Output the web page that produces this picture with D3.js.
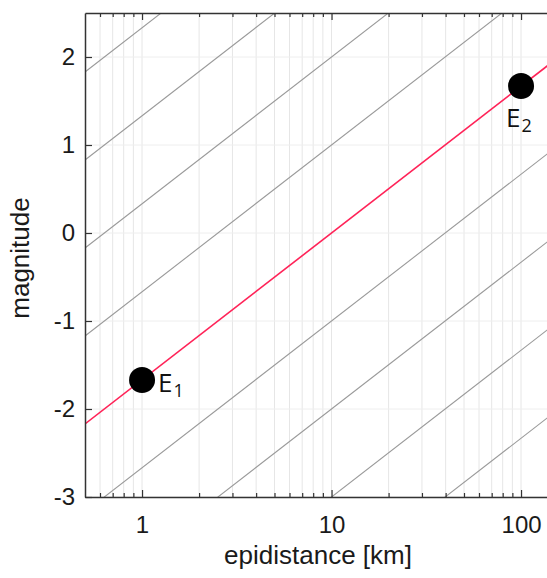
<!DOCTYPE html>
<html>
<head>
<meta charset="utf-8">
<script src="https://cdn.jsdelivr.net/npm/d3@7"></script>
<style>
  body { margin: 0; background: #fff; }
  svg { display: block; font-family: "Liberation Sans", Arial, sans-serif; }
</style>
</head>
<body>
<div id="chart"></div>
<script>
const svgWidth = 547;
const svgHeight = 578;

const margin = {top: 13, left: 85, bottom: 81};

// distances where the straight lines start and end
const lineDist = [0.5, 200];
// the red line (through E1 and E2), magnitude at lineDist
const redMag = [-2.17, 2.17];
// grey parallel lines, magnitude at lineDist
const greyMag = [
    [1.83, 6.17],
    [0.83, 5.17],
    [-0.17, 4.17],
    [-1.17, 3.17],
    [-3.17, 1.17],
    [-4.17, 0.17],
    [-5.17, -0.83],
    [-6.17, -1.83],
    [-7.17, -2.83]
];

const eventNames = ["E", "E"];
const eventSubs = ["1", "2"];
const eventDist = [1, 100];
const eventMag = [-1.67, 1.67];

const xMajor = [1, 10, 100];
const xMinor = [0.6, 0.7, 0.8, 0.9, 2, 3, 4, 5, 6, 7, 8, 9, 20, 30, 40, 50, 60, 70, 80, 90, 200];
const yTicks = [-3, -2, -1, 0, 1, 2];

const plotRight = margin.left + 189.5 * Math.log10(400);
const plotBottom = svgHeight - margin.bottom;

const svg = d3.select("#chart")
    .append("svg")
    .attr("width", svgWidth)
    .attr("height", svgHeight);

const x = d3.scaleLog()
    .domain([0.5, 200])
    .range([margin.left, plotRight]);

const y = d3.scaleLinear()
    .domain([-3, 2.5])
    .range([plotBottom, margin.top]);

svg.append("clipPath").attr("id", "clip")
    .append("rect")
    .attr("x", margin.left)
    .attr("y", margin.top)
    .attr("width", plotRight - margin.left)
    .attr("height", plotBottom - margin.top);

// grid
const grid = svg.append("g");
grid.selectAll(".vg")
    .data(xMajor.concat(xMinor))
    .enter().append("line")
    .attr("x1", d => x(d)).attr("x2", d => x(d))
    .attr("y1", margin.top).attr("y2", plotBottom)
    .attr("stroke", "#e6e6e6")
    .attr("stroke-width", 1);
grid.selectAll(".hg")
    .data(yTicks)
    .enter().append("line")
    .attr("x1", margin.left).attr("x2", plotRight)
    .attr("y1", d => y(d)).attr("y2", d => y(d))
    .attr("stroke", "#eeeeee")
    .attr("stroke-width", 1);

const lineGen = d3.line()
    .x(d => x(d[0]))
    .y(d => y(d[1]));

const plot = svg.append("g").attr("clip-path", "url(#clip)");

plot.selectAll(".grey")
    .data(greyMag)
    .enter().append("path")
    .attr("d", m => lineGen(lineDist.map((d, i) => [d, m[i]])))
    .attr("fill", "none")
    .attr("stroke", "#9a9a9a")
    .attr("stroke-width", 1.1);

plot.append("path")
    .attr("d", lineGen(lineDist.map((d, i) => [d, redMag[i]])))
    .attr("fill", "none")
    .attr("stroke", "#ff2358")
    .attr("stroke-width", 1.6);

plot.selectAll(".ev")
    .data(eventDist)
    .enter().append("circle")
    .attr("cx", d => x(d))
    .attr("cy", (d, i) => y(eventMag[i]))
    .attr("r", 13)
    .attr("fill", "#000");

// event labels: E1 to the right, E2 below
const labelOffset = [[16, 12], [-15, 41]];
const labels = svg.selectAll(".evlab")
    .data(eventDist)
    .enter().append("text")
    .attr("x", (d, i) => x(d) + labelOffset[i][0])
    .attr("y", (d, i) => y(eventMag[i]) + labelOffset[i][1])
    .style("font-family", "'Open Sans', 'DejaVu Sans', sans-serif")
    .style("font-size", "26px")
    .attr("fill", "#111");
labels.append("tspan").text((d, i) => eventNames[i]);
labels.append("tspan")
    .attr("dy", 5)
    .attr("dx", 1)
    .style("font-size", "18px")
    .text((d, i) => eventSubs[i]);

// axes with inward ticks
function styleAxis(g) {
    g.select(".domain").attr("stroke", "#333").attr("stroke-width", 1.5);
    g.selectAll(".tick line").attr("stroke", "#333").attr("stroke-width", 1.2);
    g.selectAll(".tick text").attr("fill", "#1a1a1a").style("font-size", "24px")
        .style("font-family", "'Liberation Sans', Arial, sans-serif");
}

const plainFormat = d => String(d);

svg.append("g")
    .attr("transform", "translate(0," + plotBottom + ")")
    .call(d3.axisBottom(x).tickValues(xMinor).tickSize(-4).tickFormat(""))
    .call(g => { styleAxis(g); g.select(".domain").remove(); });

svg.append("g")
    .attr("transform", "translate(0," + plotBottom + ")")
    .call(d3.axisBottom(x).tickValues(xMajor).tickSizeInner(-7).tickSizeOuter(0)
        .tickPadding(19).tickFormat(plainFormat))
    .call(styleAxis);

svg.append("g")
    .attr("transform", "translate(0," + margin.top + ")")
    .call(d3.axisTop(x).tickValues(xMinor).tickSize(-4).tickFormat(""))
    .call(g => { styleAxis(g); g.select(".domain").remove(); });

svg.append("g")
    .attr("transform", "translate(0," + margin.top + ")")
    .call(d3.axisTop(x).tickValues(xMajor).tickSizeInner(-7).tickSizeOuter(0).tickFormat(""))
    .call(styleAxis);

svg.append("g")
    .attr("transform", "translate(" + margin.left + ",0)")
    .call(d3.axisLeft(y).tickValues(yTicks).tickSizeInner(-7).tickSizeOuter(0)
        .tickPadding(10).tickFormat(plainFormat))
    .call(styleAxis);

svg.append("text")
    .attr("x", 318)
    .attr("y", 564)
    .attr("text-anchor", "middle")
    .style("font-size", "26px")
    .attr("fill", "#1a1a1a")
    .text("epidistance [km]");

svg.append("text")
    .attr("transform", "translate(29,258) rotate(-90)")
    .attr("text-anchor", "middle")
    .style("font-size", "26px")
    .attr("fill", "#1a1a1a")
    .text("magnitude");
</script>
</body>
</html>
